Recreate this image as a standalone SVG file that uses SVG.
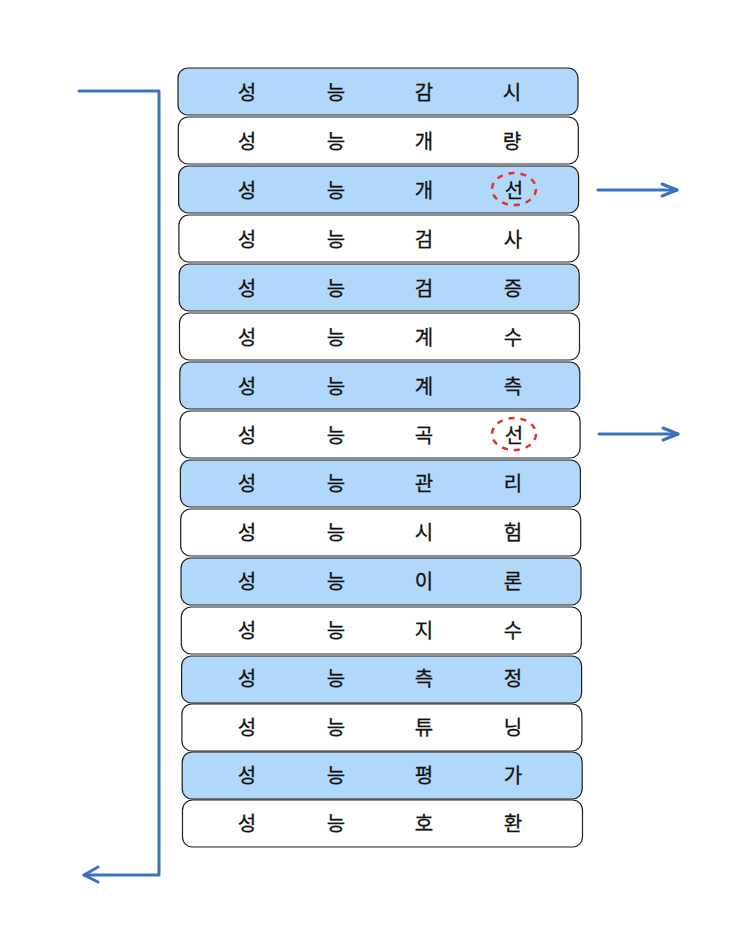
<svg xmlns="http://www.w3.org/2000/svg" width="740" height="928" viewBox="0 0 740 928">
<defs>
<style>
.b{fill:#b1d7fa;stroke:#1e1e1e;stroke-width:1.2}
.w{fill:#ffffff;stroke:#1e1e1e;stroke-width:1.2}
text{font-family:"Noto Sans CJK KR","Noto Sans",sans-serif;font-size:20px;font-weight:400;fill:#111111;stroke:#111111;stroke-width:0.3;text-anchor:middle;dominant-baseline:central}
.c{fill:none;stroke:#3a72c0;stroke-width:3;stroke-linecap:round;stroke-linejoin:round}
.r{fill:none;stroke:#e03131;stroke-width:2.5;stroke-dasharray:6 6}
</style>
</defs>
<rect width="740" height="928" fill="#ffffff"/>
<g id="row1"><rect class="b" x="178" y="68" width="400" height="47" rx="10"/><text x="247" y="91">성</text><text x="336" y="91">능</text><text x="424" y="91">감</text><text x="512" y="91">시</text></g>
<g id="row2"><rect class="w" x="178.3" y="117" width="400" height="47" rx="10"/><text x="247" y="140">성</text><text x="336" y="140">능</text><text x="424" y="140">개</text><text x="512" y="140">량</text></g>
<g id="row3"><rect class="b" x="178.6" y="166" width="400" height="47" rx="10"/><text x="247" y="189">성</text><text x="336" y="189">능</text><text x="424" y="189">개</text><text x="514" y="189">선</text><ellipse class="r" cx="514" cy="189" rx="22" ry="16"/></g>
<g id="row4"><rect class="w" x="178.9" y="215" width="400" height="47" rx="10"/><text x="247" y="238">성</text><text x="336" y="238">능</text><text x="424" y="238">검</text><text x="513" y="238">사</text></g>
<g id="row5"><rect class="b" x="179.2" y="264" width="400" height="47" rx="10"/><text x="247" y="287">성</text><text x="336" y="287">능</text><text x="424" y="287">검</text><text x="513" y="287">증</text></g>
<g id="row6"><rect class="w" x="179.5" y="313" width="400" height="47" rx="10"/><text x="247" y="336">성</text><text x="336" y="336">능</text><text x="424" y="336">계</text><text x="513" y="336">수</text></g>
<g id="row7"><rect class="b" x="179.8" y="362" width="400" height="47" rx="10"/><text x="247" y="385">성</text><text x="336" y="385">능</text><text x="424" y="385">계</text><text x="513" y="385">측</text></g>
<g id="row8"><rect class="w" x="180.1" y="411" width="400" height="47" rx="10"/><text x="247" y="434">성</text><text x="336" y="434">능</text><text x="424" y="434">곡</text><text x="514" y="434">선</text><ellipse class="r" cx="514" cy="434" rx="22" ry="16"/></g>
<g id="row9"><rect class="b" x="180.4" y="460" width="400" height="47" rx="10"/><text x="247" y="482">성</text><text x="336" y="482">능</text><text x="424" y="482">관</text><text x="513" y="482">리</text></g>
<g id="row10"><rect class="w" x="180.7" y="509" width="400" height="47" rx="10"/><text x="247" y="531">성</text><text x="336" y="531">능</text><text x="424" y="531">시</text><text x="513" y="531">험</text></g>
<g id="row11"><rect class="b" x="181" y="558" width="400" height="47" rx="10"/><text x="247" y="580">성</text><text x="336" y="580">능</text><text x="424" y="580">이</text><text x="513" y="580">론</text></g>
<g id="row12"><rect class="w" x="181.3" y="607" width="400" height="47" rx="10"/><text x="247" y="629">성</text><text x="336" y="629">능</text><text x="424" y="629">지</text><text x="513" y="629">수</text></g>
<g id="row13"><rect class="b" x="181.6" y="656" width="400" height="47" rx="10"/><text x="247" y="677">성</text><text x="336" y="677">능</text><text x="424" y="677">측</text><text x="513" y="677">정</text></g>
<g id="row14"><rect class="w" x="181.9" y="704" width="400" height="47" rx="10"/><text x="247" y="726">성</text><text x="336" y="726">능</text><text x="424" y="726">튜</text><text x="513" y="726">닝</text></g>
<g id="row15"><rect class="b" x="182.2" y="752" width="400" height="47" rx="10"/><text x="247" y="774">성</text><text x="336" y="774">능</text><text x="424" y="774">평</text><text x="513" y="774">가</text></g>
<g id="row16"><rect class="w" x="182.5" y="800" width="400" height="47" rx="10"/><text x="247" y="822">성</text><text x="336" y="822">능</text><text x="424" y="822">호</text><text x="513" y="822">환</text></g>
<g id="connectors">
<path class="c" d="M79 91 L159 91 L159 875 L84 875"/>
<path class="c" d="M98 867 L84 875 L98 882"/>
<path class="c" d="M598 190 L677 190"/>
<path class="c" d="M662 184 L677 190 L662 196"/>
<path class="c" d="M599 434 L678 434"/>
<path class="c" d="M663 428 L678 434 L663 440"/>
</g>
</svg>
